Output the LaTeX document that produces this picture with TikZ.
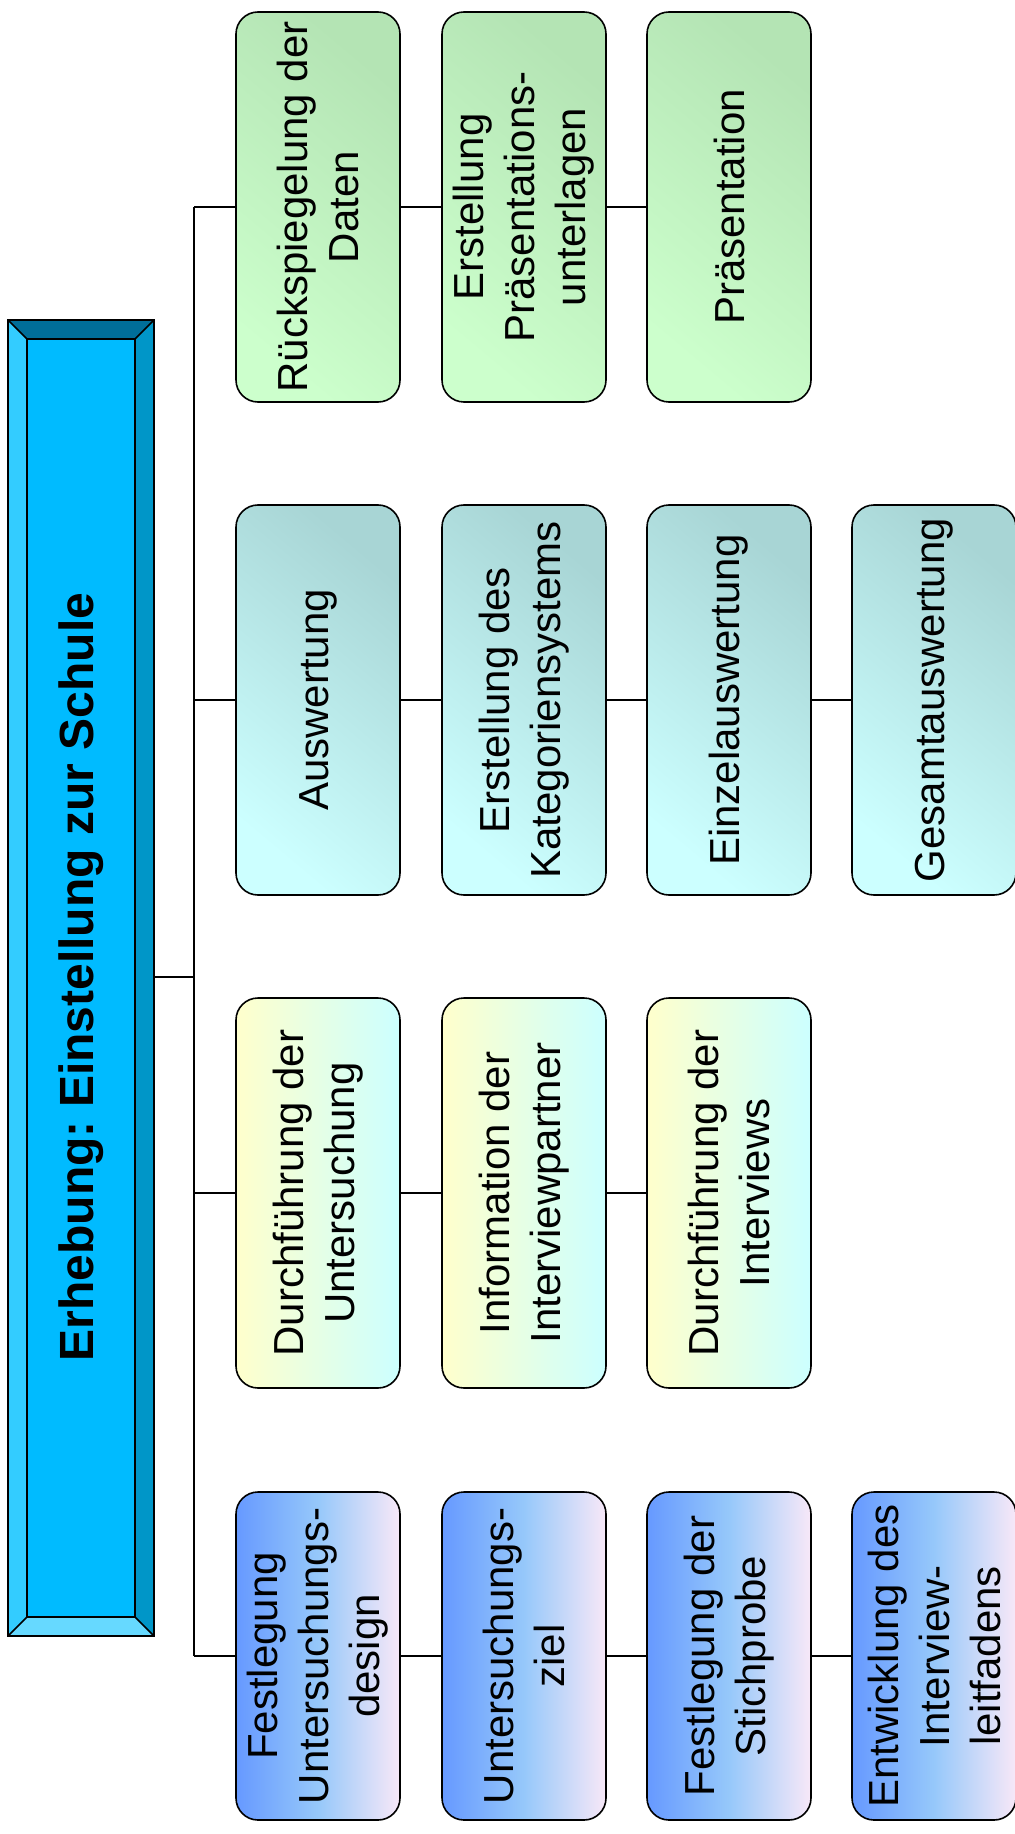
\documentclass[tikz,border=0pt]{standalone}
\usepackage{fontspec}
\setmainfont{Liberation Sans}
\usetikzlibrary{positioning}

\definecolor{bevtop}{RGB}{0,110,153}
\definecolor{bevleft}{RGB}{51,204,255}
\definecolor{bevright}{RGB}{0,150,200}
\definecolor{bevbot}{RGB}{102,217,255}
\definecolor{titlefill}{RGB}{0,187,255}
\definecolor{planA}{RGB}{102,153,255}
\definecolor{planB}{RGB}{150,200,250}
\definecolor{planC}{RGB}{248,232,248}
\definecolor{runA}{RGB}{255,255,204}
\definecolor{runB}{RGB}{204,255,255}
\definecolor{evalA}{RGB}{204,255,255}
\definecolor{evalB}{RGB}{168,213,213}
\definecolor{backA}{RGB}{204,255,204}
\definecolor{backB}{RGB}{180,228,180}

\tikzset{
  stage/.style={draw, rounded corners=11pt, rotate=90, minimum width=195pt,
    minimum height=82pt, inner sep=0pt, align=center, line width=0.8pt,
    font=\fontsize{21}{25.5}\selectfont},
  plan/.style={stage, minimum width=164pt, left color=planA, right color=planC, middle color=planB},
  run/.style={stage, left color=runA, right color=runB},
  eval/.style={stage, bottom color=evalA, top color=evalB, shading angle=-40},
  back/.style={stage, bottom color=backA, top color=backB, shading angle=-40},
  link/.style={line width=0.8pt}
}

\begin{document}
\begin{tikzpicture}[x=0.5pt,y=-0.5pt]
\useasboundingbox (0,0) rectangle (1015,1834);

% title with bevel
\fill[titlefill] (27,339) rectangle (135,1617);
\fill[bevtop] (8,320) -- (154,320) -- (135,339) -- (27,339) -- cycle;
\fill[bevleft] (8,320) -- (27,339) -- (27,1617) -- (8,1636) -- cycle;
\fill[bevright] (154,320) -- (154,1636) -- (135,1617) -- (135,339) -- cycle;
\fill[bevbot] (8,1636) -- (154,1636) -- (135,1617) -- (27,1617) -- cycle;
\draw[link] (8,320) rectangle (154,1636);
\draw[link] (27,339) rectangle (135,1617);
\draw[link] (8,320) -- (27,339) (154,320) -- (135,339)
  (8,1636) -- (27,1617) (154,1636) -- (135,1617);
\node[rotate=90, minimum width=658pt, minimum height=73pt, inner sep=0pt,
  font=\fontsize{24}{28}\selectfont\bfseries\frenchspacing] (title) at (81,977)
  {Erhebung: Einstellung zur Schule};

% Rueckspiegelung
\node[back] (r1) at (318,207) {Rückspiegelung der\\Daten};
\node[back] (r2) at (524,207) {Erstellung\\Präsentations-\\unterlagen};
\node[back] (r3) at (729,207) {Präsentation};

% Auswertung
\node[eval] (a1) at (318,700) {Auswertung};
\node[eval] (a2) at (524,700) {Erstellung des\\Kategoriensystems};
\node[eval] (a3) at (729,700) {Einzelauswertung};
\node[eval] (a4) at (934,700) {Gesamtauswertung};

% Durchfuehrung
\node[run] (d1) at (318,1193) {Durchführung der\\Untersuchung};
\node[run] (d2) at (524,1193) {Information der\\Interviewpartner};
\node[run] (d3) at (729,1193) {Durchführung der\\Interviews};

% Festlegung
\node[plan] (f1) at (318,1656) {Festlegung\\Untersuchungs-\\design};
\node[plan] (f2) at (524,1656) {Untersuchungs-\\ziel};
\node[plan] (f3) at (729,1656) {Festlegung der\\Stichprobe};
\node[plan] (f4) at (934,1656) {Entwicklung des\\Interview-\\leitfadens};

% connectors
\coordinate (bus) at (194,977);
\draw[link] (title.south) -- (title.south -| bus);
\draw[link] (bus |- r1.north) -- (bus |- f1.north);
\foreach \g in {r1,a1,d1,f1}
  \draw[link] (bus |- \g.north) -- (\g.north);
\draw[link] (r1.south) -- (r2.north) (r2.south) -- (r3.north);
\draw[link] (a1.south) -- (a2.north) (a2.south) -- (a3.north) (a3.south) -- (a4.north);
\draw[link] (d1.south) -- (d2.north) (d2.south) -- (d3.north);
\draw[link] (f1.south) -- (f2.north) (f2.south) -- (f3.north) (f3.south) -- (f4.north);
\end{tikzpicture}
\end{document}
